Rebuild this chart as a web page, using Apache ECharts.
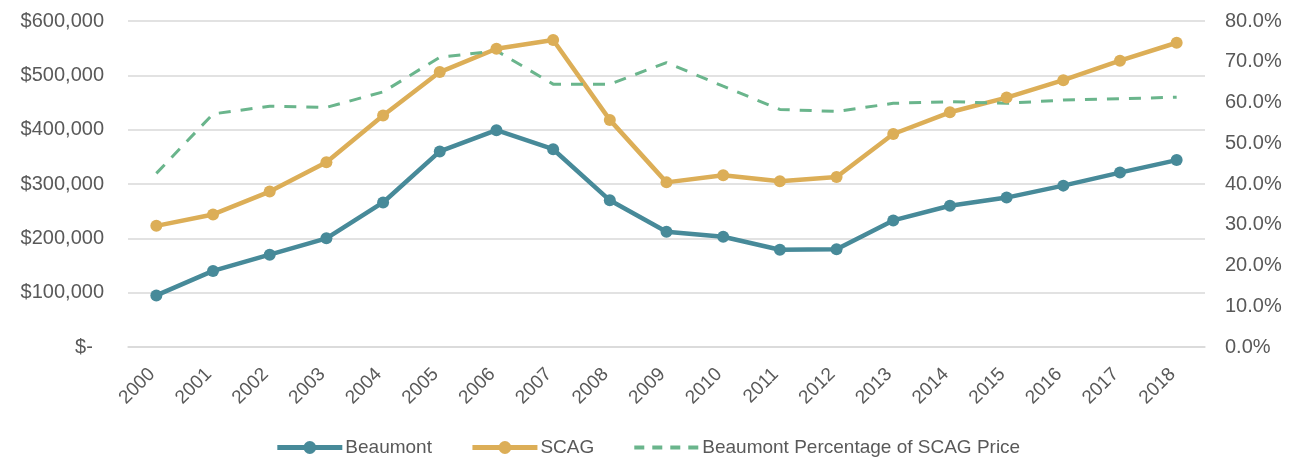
<!DOCTYPE html>
<html>
<head>
<meta charset="utf-8">
<script src="https://cdn.jsdelivr.net/npm/echarts@6/dist/echarts.min.js"></script>
<style>
html,body{margin:0;padding:0;background:#fff;}
#chart{width:1295px;height:460px;}
</style>
</head>
<body>
<div id="chart"></div>
<script>
var years = ['2000','2001','2002','2003','2004','2005','2006','2007','2008','2009','2010','2011','2012','2013','2014','2015','2016','2017','2018'];
var beaumont = [95000,140000,170000,200000,266000,360000,399000,364000,270000,212000,203000,179000,180000,233000,260000,275000,297000,321000,344000];
var scag = [223000,244000,286000,340000,426000,506000,549000,565000,418000,303000,316000,305000,313000,392000,432000,459000,491000,527000,560000];
var pct = [0.426,0.572,0.591,0.588,0.626,0.711,0.727,0.645,0.645,0.698,0.640,0.583,0.578,0.598,0.602,0.598,0.606,0.609,0.613];
var leftTicks = {min:0, max:600000, interval:100000};
var rightTicks = {min:0, max:0.8, interval:0.1};

var FONT = '"Liberation Sans", Arial, sans-serif';
var TXT = '#595959';
var C_B = '#478a99', C_S = '#dcae57', C_P = '#6ab58c';
var chart = echarts.init(document.getElementById('chart'));
chart.setOption({
  animation:false,
  textStyle:{fontFamily:FONT},
  grid:{left:128, right:90, top:21, bottom:113, containLabel:false},
  legend:{
    bottom:-2, left:'center', itemWidth:65, itemHeight:16, itemGap:38,
    textStyle:{fontSize:19, color:TXT, fontFamily:FONT, padding:[0,0,0,-2]},
    data:[
      {name:'Beaumont', lineStyle:{width:5, color:C_B}},
      {name:'SCAG', lineStyle:{width:5, color:C_S}},
      {name:'Beaumont Percentage of SCAG Price', itemStyle:{opacity:0}, lineStyle:{width:4, color:C_P, type:[10,8]}}
    ]
  },
  xAxis:{
    type:'category', data:years, boundaryGap:true,
    axisLine:{show:true, lineStyle:{color:'#d9d9d9', width:1.5}},
    axisTick:{show:false},
    axisLabel:{rotate:45, fontSize:19, color:TXT, margin:20, interval:0, padding:[0,6,0,0]}
  },
  yAxis:[{
    type:'value', min:leftTicks.min, max:leftTicks.max, interval:leftTicks.interval,
    axisLine:{show:false}, axisTick:{show:false},
    splitLine:{lineStyle:{color:'#d9d9d9', width:1.5}},
    axisLabel:{fontSize:20, color:TXT, margin:24,
      formatter:function(v){ return v===0 ? '$-  ' : '$' + v.toLocaleString('en-US'); }}
  },{
    type:'value', min:rightTicks.min, max:rightTicks.max, interval:rightTicks.interval,
    axisLine:{show:false}, axisTick:{show:false}, splitLine:{show:false},
    axisLabel:{fontSize:20, color:TXT, margin:20,
      formatter:function(v){ return (v*100).toFixed(1) + '%'; }}
  }],
  series:[{
    name:'Beaumont', type:'line', data:beaumont, yAxisIndex:0,
    symbol:'circle', symbolSize:12,
    lineStyle:{color:C_B, width:4.5}, itemStyle:{color:C_B}
  },{
    name:'SCAG', type:'line', data:scag, yAxisIndex:0,
    symbol:'circle', symbolSize:12,
    lineStyle:{color:C_S, width:4.5}, itemStyle:{color:C_S}
  },{
    name:'Beaumont Percentage of SCAG Price', type:'line', data:pct, yAxisIndex:1,
    symbol:'none', smooth:false,
    lineStyle:{color:C_P, width:3, type:[12,10]}, itemStyle:{color:C_P}
  }]
});
</script>
</body>
</html>
